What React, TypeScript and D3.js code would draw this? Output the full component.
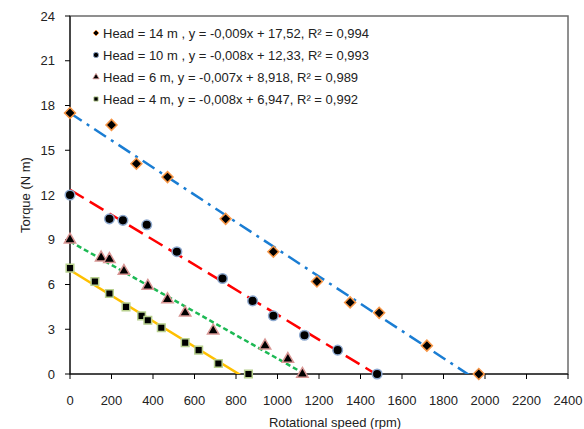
import React from "react";
import * as d3 from "d3";

const xTicks = [0, 200, 400, 600, 800, 1000, 1200, 1400, 1600, 1800, 2000, 2200, 2400];
const yTicks = [0, 3, 6, 9, 12, 15, 18, 21, 24];

const head14X = [0, 200, 320, 470, 750, 980, 1190, 1350, 1490, 1720, 1970];
const head14Y = [17.5, 16.7, 14.1, 13.2, 10.4, 8.2, 6.2, 4.8, 4.1, 1.9, 0];

const head10X = [0, 190, 255, 370, 515, 735, 880, 980, 1130, 1290, 1480];
const head10Y = [12.0, 10.4, 10.3, 10.0, 8.2, 6.4, 4.9, 3.9, 2.6, 1.6, 0];

const head6X = [0, 150, 190, 260, 375, 470, 555, 690, 940, 1050, 1120];
const head6Y = [9.0, 7.8, 7.7, 6.9, 5.9, 5.0, 4.1, 2.9, 1.9, 1.0, 0];

const head4X = [0, 120, 190, 270, 345, 375, 440, 555, 620, 715, 860];
const head4Y = [7.1, 6.2, 5.4, 4.5, 3.9, 3.6, 3.1, 2.1, 1.6, 0.7, 0];

const legendLabels = [
  "Head = 14 m , y = -0,009x + 17,52, R\u00b2 = 0,994",
  "Head = 10 m , y = -0,008x + 12,33, R\u00b2 = 0,993",
  "Head = 6 m, y = -0,007x + 8,918, R\u00b2 = 0,989",
  "Head = 4 m, y = -0,008x + 6,947, R\u00b2 = 0,992",
];

const seriesDefs = [
  { xs: head14X, ys: head14Y, shape: "diamond", outline: "#F79646", line: "#1A7DD3", dash: "14,6,3,6" },
  { xs: head10X, ys: head10Y, shape: "circle", outline: "#8EA9CF", line: "#FF0000", dash: "16,7" },
  { xs: head6X, ys: head6Y, shape: "triangle", outline: "#D99694", line: "#1DB954", dash: "5,3" },
  { xs: head4X, ys: head4Y, shape: "square", outline: "#B8D08E", line: "#FFC000", dash: "none" },
];

const W = 584;
const H = 429;
const L = 70, R = 568, T = 16, B = 374;
const FONT = "'Liberation Sans', Arial, sans-serif";

function fit(xs: number[], ys: number[]) {
  const mx = d3.mean(xs)!;
  const my = d3.mean(ys)!;
  let sxy = 0, sxx = 0;
  xs.forEach((x, i) => {
    sxy += (x - mx) * (ys[i] - my);
    sxx += (x - mx) * (x - mx);
  });
  const b = sxy / sxx;
  return { b, a: my - b * mx };
}

function markerPath(shape: string): { d: string; rot: number } {
  if (shape === "diamond") return { d: d3.symbol(d3.symbolSquare, 60)()!, rot: 45 };
  if (shape === "circle") return { d: d3.symbol(d3.symbolCircle, 72)()!, rot: 0 };
  if (shape === "triangle") return { d: d3.symbol(d3.symbolTriangle, 56)()!, rot: 0 };
  return { d: d3.symbol(d3.symbolSquare, 58)()!, rot: 0 };
}

export default function App() {
  const x = d3.scaleLinear().domain([0, 2400]).range([L, R]);
  const y = d3.scaleLinear().domain([0, 24]).range([B, T]);

  return (
    <svg width={W} height={H} style={{ position: "absolute", left: 0, top: 0, background: "#fff" }} fontFamily={FONT}>
      <defs>
        <clipPath id="plot">
          <rect x={L} y={T} width={R - L} height={B - T} />
        </clipPath>
      </defs>
      <rect x={0} y={0} width={W} height={H} fill="#fff" />
      <rect x={L} y={T} width={R - L} height={B - T} fill="none" stroke="#6b6b6b" strokeWidth={1.5} />
      <line x1={L} x2={L} y1={T} y2={B} stroke="#000" strokeWidth={1} />
      <line x1={L} x2={R} y1={B} y2={B} stroke="#000" strokeWidth={1} />
      {yTicks.map((t) => (
        <g key={"y" + t}>
          <line x1={L - 5} x2={L} y1={y(t)} y2={y(t)} stroke="#000" />
          <text x={55} y={y(t)} dy="0.35em" textAnchor="end" fontSize={13} fill="#222">{t}</text>
        </g>
      ))}
      {xTicks.map((t) => (
        <g key={"x" + t}>
          <line x1={x(t)} x2={x(t)} y1={B} y2={B + 5} stroke="#000" />
          <text x={x(t)} y={405} textAnchor="middle" fontSize={13} fill="#222">{t}</text>
        </g>
      ))}
      <text x={335} y={427} textAnchor="middle" fontSize={13} fill="#222">Rotational speed (rpm)</text>
      <text transform={`translate(30,${(T + B) / 2}) rotate(-90)`} textAnchor="middle" fontSize={13} fill="#222">Torque (N m)</text>

      <g clipPath="url(#plot)">
        {seriesDefs.map((s, i) => {
          const { a, b } = fit(s.xs, s.ys);
          const x0 = 0;
          const x1 = d3.max(s.xs)!;
          return (
            <line key={"t" + i} x1={x(x0)} y1={y(a + b * x0)} x2={x(x1)} y2={y(a + b * x1)}
              stroke={s.line} strokeWidth={2.5} strokeDasharray={s.dash} />
          );
        })}
      </g>

      {seriesDefs.map((s, i) => {
        const m = markerPath(s.shape);
        return (
          <g key={"m" + i}>
            {s.xs.map((xv, j) => (
              <path key={j} d={m.d} transform={`translate(${x(xv)},${y(s.ys[j])}) rotate(${m.rot})`}
                fill="#000" stroke={s.outline} strokeWidth={1.5} />
            ))}
          </g>
        );
      })}

      {seriesDefs.map((s, i) => {
        const m = markerPath(s.shape);
        const cy = 33 + i * 22;
        return (
          <g key={"l" + i}>
            <path d={m.d} transform={`translate(96,${cy}) rotate(${m.rot}) scale(0.55)`} fill="#000" stroke={s.outline} strokeWidth={1.5} />
            <text x={103} y={cy} dy="0.35em" fontSize={13} fill="#222">{legendLabels[i]}</text>
          </g>
        );
      })}
    </svg>
  );
}
